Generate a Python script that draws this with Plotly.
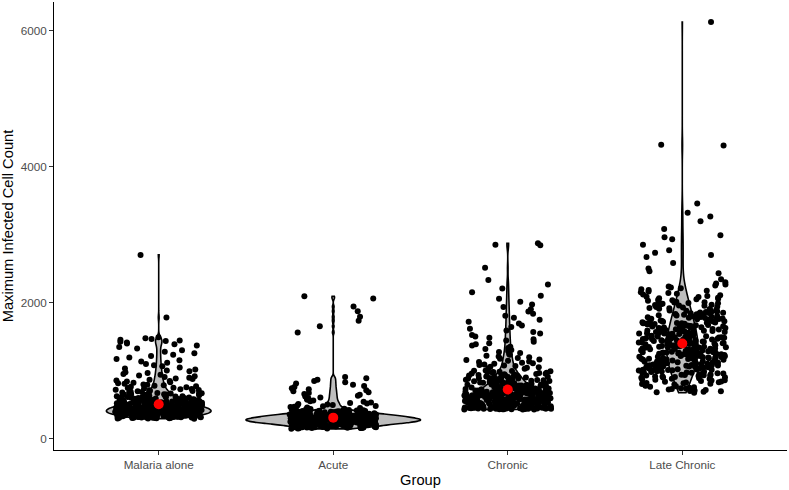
import numpy as np
import plotly.graph_objects as go

groups = ["Malaria alone", "Acute", "Chronic", "Late Chronic"]

malaria_alone = [
    291, 293, 294, 296, 297, 299, 300, 301, 303, 304, 305, 307, 308, 309, 311,
    312, 313, 314, 316, 317, 318, 319, 320, 322, 323, 324, 325, 326, 327, 328,
    329, 330, 331, 332, 333, 333, 334, 335, 336, 337, 337, 338, 339, 339, 340,
    341, 342, 342, 343, 344, 345, 345, 346, 347, 347, 348, 349, 350, 350, 351,
    352, 353, 353, 354, 355, 356, 356, 357, 358, 359, 359, 360, 361, 362, 362,
    363, 364, 365, 366, 366, 367, 368, 369, 370, 370, 371, 372, 373, 374, 375,
    375, 376, 377, 378, 379, 380, 381, 382, 383, 384, 385, 386, 387, 388, 389,
    390, 391, 391, 392, 393, 393, 394, 395, 395, 396, 397, 397, 398, 399, 399,
    400, 401, 401, 402, 403, 403, 404, 405, 405, 406, 407, 407, 408, 409, 409,
    410, 411, 411, 412, 413, 413, 414, 415, 416, 416, 417, 418, 418, 419, 420,
    421, 421, 422, 423, 424, 424, 425, 426, 427, 427, 428, 429, 430, 431, 431,
    432, 433, 434, 434, 435, 436, 437, 437, 438, 439, 440, 440,
    441, 442, 443, 443, 444, 445, 446, 447, 447, 448, 449, 450, 451, 452, 452,
    453, 454, 455, 456, 457, 457, 458, 459, 460, 461, 462, 463, 463, 464, 465,
    466, 467, 468, 469, 470, 470, 471, 472, 473, 474, 475, 476, 477, 478, 479,
    480, 481, 482, 483, 484, 485, 486, 487, 488, 489, 490, 491, 492, 493, 494,
    495, 496, 498,
    499, 500, 502, 503, 504, 506, 507, 508, 510, 511, 512, 514, 515, 517, 518,
    519, 521, 522, 524, 525, 527, 528, 530, 531, 533, 534, 536, 537, 539, 540,
    542, 543, 545, 547, 548, 550, 551, 553, 555, 556, 558, 560,
    562, 563, 565, 567, 569, 571, 573, 575, 577, 579, 581, 583, 585, 587, 589,
    591, 593, 596, 598, 600, 602, 605, 607, 609, 612, 614, 617, 619, 622, 624,
    627, 630, 633, 636, 639, 642, 645, 648, 651, 655, 658, 662, 665, 669, 673,
    677, 681, 685, 689, 694,
    698, 703, 708, 713, 718, 724, 729, 735, 741, 747, 753, 760, 767, 774, 781,
    788, 795, 803, 811, 819, 828, 836, 845, 854, 863, 873, 883, 893, 903,
    914, 925, 937, 949, 961, 974, 987, 1001, 1015, 1030, 1045,
    1061, 1078, 1095, 1113, 1131, 1150, 1170, 1190, 1211, 1232, 1254, 1276, 1299,
    1322, 1345, 1366, 1384, 1398, 1410, 1421, 1432, 1441, 1450, 1462, 1475, 1490,
    1780, 2700,
]

acute = [
    141, 145, 148, 150, 152, 154, 155, 157, 158, 159, 160, 161, 162, 163, 163, 164, 165, 165,
    166, 167, 168, 169, 170, 171, 172, 173, 174, 175, 177, 178, 179, 180, 182, 183, 184, 186, 187, 189,
    190, 191, 192, 193, 193, 194, 195, 196, 197, 198, 199, 199, 200, 201, 202,
    203, 204, 205, 205, 206, 207, 208, 209, 210, 211, 211, 212, 213, 214,
    215, 215, 216, 217, 217, 218, 219, 219, 220, 221, 221, 222, 223, 223, 224,
    225, 225, 226, 227, 227, 228, 229, 229, 230, 231, 231, 232, 233, 233, 234,
    235, 235, 236, 237, 237, 238, 239, 239,
    240, 240, 241, 241, 242, 242, 243, 243, 244, 244, 245, 245, 246, 246, 247,
    247, 248, 248, 249, 249, 250, 250, 251, 251, 252, 252, 253, 254, 254, 255,
    255, 256, 256, 257, 257, 258, 258, 259, 259, 260, 261, 261, 262, 263, 263, 264,
    265, 265, 266, 266, 267, 267, 268, 268, 268, 269, 269, 270, 270, 271, 271,
    272, 272, 273, 273, 274, 274, 275, 275, 276, 276, 277, 277, 278, 278, 279,
    279, 280, 280, 281, 281, 282, 282, 283, 283, 284, 284, 285, 285, 286, 287,
    287, 288, 289,
    290, 290, 291, 291, 292, 292, 293, 293, 294, 294, 295, 295, 296, 296, 297,
    297, 298, 298, 299, 299, 300, 300, 301, 301, 302, 302, 303, 303, 304, 304,
    305, 305, 306, 306, 307, 307, 308, 309, 309, 310, 311, 311, 312, 313, 314,
    315, 315, 316, 317, 317, 318, 319, 319, 320, 321, 321, 322, 323, 323, 324,
    325, 326, 326, 327, 328, 328, 329, 330, 331, 331, 332, 333, 333, 334, 335,
    335, 336, 337, 337, 338, 338, 339, 339, 340,
    341, 342, 342, 343, 344, 345, 345, 346, 347, 348, 349, 349, 350, 351, 352,
    353, 353, 354, 355, 356, 357, 358, 358, 359, 360, 361, 362, 363, 364,
    365, 366, 367, 368, 369, 370, 371, 372, 374, 375, 376, 377, 379, 380, 381,
    383, 384, 386, 387, 389,
    390, 392, 394, 396, 398, 400, 402, 404, 406, 409, 411, 414,
    416, 419, 422, 425, 428, 432, 435, 439,
    443, 449, 455, 461, 467, 473, 479, 486, 493, 500, 507, 514, 522, 530, 539, 548,
    558, 569, 580, 592, 604, 616, 628, 641, 654, 667, 681, 695, 709,
    724, 740, 756, 773, 790, 808, 826, 845, 864, 884, 905,
    1560, 1650, 1730, 1790, 1870, 1940, 2060, 2090,
]

chronic = [
    426, 427, 427, 429, 430, 431, 431, 433, 434, 435, 436, 436, 438, 439, 440,
    441, 442, 442, 444, 445, 446, 447, 448, 448, 450, 451, 452, 453, 453, 455,
    456, 457, 458, 459, 459, 461, 462, 463, 464, 464, 466, 467, 468, 469, 469,
    471, 472, 473, 474, 475,
    476, 477, 478, 479, 480, 481, 482, 483, 484, 485, 487, 488, 489, 490, 491,
    492, 493, 494, 495, 496, 498, 499, 500, 501, 502, 503, 504, 505, 506, 507,
    509, 510, 511, 512, 513, 514, 515, 516, 517, 518, 520, 521, 522, 523, 524,
    525, 526, 527, 528, 529,
    530, 531, 532, 534, 535, 536, 537, 538, 540, 541, 542, 543, 544, 546, 547,
    548, 549, 550, 552, 553, 554, 555, 556, 558, 559, 560, 561, 562, 564, 565,
    566, 567, 568, 570, 571, 572, 573, 574, 576, 577, 578, 579, 580, 582, 583,
    584, 585, 586,
    588, 589, 590, 592, 593, 594, 596, 597, 598, 600, 601, 602, 604, 605, 606,
    608, 609, 610, 612, 613, 614, 616, 617, 618, 620, 621, 622, 624, 625, 626,
    628, 629, 630, 632, 633, 634, 636, 637, 638, 640, 641, 642,
    644, 645, 647, 648, 650, 651, 653, 654, 656, 657, 659, 660, 662, 663, 665,
    666, 668, 669, 671, 672, 674, 675, 677, 678, 680, 681, 683, 684, 686, 687,
    689, 690, 692, 694, 695, 697, 698, 700, 702, 703, 705, 706, 708, 710, 711,
    713, 715, 717, 719, 721, 723, 725, 727, 729, 731, 733, 735, 737, 739, 741,
    743, 745, 747, 749, 751, 753, 756, 758, 760, 762, 764, 766, 768, 770, 773,
    775, 777, 779, 781, 784, 786, 788, 790, 793, 795, 797, 800,
    803, 806, 809, 812, 815, 818, 821, 824, 827, 830, 833, 836, 839, 842, 845,
    849, 852, 855, 858, 861, 865, 868, 871, 874, 878, 881, 884, 888, 891, 895,
    898, 902, 906, 909, 913, 917, 921, 925, 929, 932, 936, 940, 944, 948, 952,
    957, 961, 965, 969, 973, 978, 982, 987, 991, 996, 1000,
    1027, 1034, 1041, 1048, 1056, 1064, 1072, 1080, 1088, 1097, 1106, 1115, 1124,
    1133, 1143, 1153, 1163, 1173, 1184, 1195, 1206, 1218, 1230, 1243, 1256, 1270,
    1285, 1300, 1316, 1332, 1349, 1366, 1384, 1402, 1421, 1440, 1460, 1480, 1501,
    1522, 1544, 1566, 1589,
    1613, 1638, 1663, 1690, 1717, 1745, 1774, 1804, 1835, 1867, 1900, 1934,
    1970, 2010, 2055, 2100, 2150, 2205, 2265, 2330, 2510,
    2840, 2850, 2870,
]

late_chronic = [
    672, 679, 686, 693, 699, 706, 712, 719, 726, 733, 740, 747, 754, 761, 768, 776, 784, 792,
    801, 806, 812, 817, 823, 828, 834, 839, 845, 851, 856, 862, 868, 873, 879, 885, 891, 897,
    901, 905, 910, 913, 917, 922, 925, 930, 934, 937, 942, 946, 949, 954, 958, 961,
    966, 970, 973, 978, 982, 985, 990, 994, 998,
    1002, 1005, 1009, 1012, 1015, 1019, 1022, 1025, 1029, 1032, 1035, 1038, 1042, 1045, 1048,
    1052, 1055, 1058, 1062, 1065, 1068, 1072, 1075, 1078, 1082, 1085, 1088, 1092, 1095, 1098,
    1101, 1104, 1107, 1110, 1113, 1116, 1119, 1122, 1125, 1128, 1131, 1135, 1138, 1141, 1144,
    1147, 1150, 1153, 1156, 1159, 1162, 1165, 1168, 1171, 1174, 1177, 1180, 1184, 1187, 1190, 1193, 1197,
    1200, 1203, 1206, 1208, 1211, 1214, 1217, 1220, 1223, 1226, 1229, 1231, 1234, 1237, 1240,
    1243, 1246, 1249, 1251, 1254, 1257, 1260, 1263, 1266, 1269, 1271, 1274, 1277, 1280, 1283,
    1286, 1289, 1291, 1294, 1297,
    1300, 1303, 1305, 1308, 1311, 1314, 1316, 1319, 1322, 1325, 1328, 1330, 1333, 1336, 1339,
    1342, 1344, 1347, 1350, 1353, 1356, 1358, 1361, 1364, 1367, 1370, 1372, 1375, 1378, 1381,
    1384, 1386, 1389, 1392, 1395, 1398,
    1401, 1404, 1407, 1409, 1412, 1415, 1418, 1421, 1424, 1427, 1429, 1432, 1435, 1438, 1441,
    1444, 1447, 1449, 1452, 1455, 1458, 1461, 1464, 1467, 1469, 1472, 1475, 1478, 1481, 1484,
    1487, 1489, 1492, 1495, 1498,
    1502, 1505, 1508, 1511, 1514, 1517, 1520, 1523, 1527, 1530, 1533, 1536, 1539, 1542, 1545,
    1548, 1552, 1555, 1558, 1561, 1564, 1567, 1570, 1573, 1577, 1580, 1583, 1586, 1589, 1592, 1595, 1598,
    1602, 1605, 1609, 1612, 1616, 1619, 1623, 1626, 1630, 1633, 1637, 1640, 1644, 1647, 1651,
    1654, 1658, 1661, 1665, 1668, 1672, 1675, 1679, 1682, 1686, 1689, 1693, 1696, 1699,
    1703, 1707, 1711, 1715, 1719, 1723, 1727, 1731, 1735, 1740, 1744, 1748, 1752, 1756, 1760,
    1764, 1768, 1772, 1776, 1781, 1785, 1789, 1793, 1797,
    1802, 1807, 1812, 1816, 1821, 1826, 1830, 1835, 1840, 1845, 1849, 1854, 1859, 1863, 1868,
    1873, 1878, 1882, 1887, 1892, 1897,
    1903, 1908, 1915, 1920, 1927, 1932, 1939, 1944, 1951, 1956, 1963, 1968, 1975, 1980, 1987, 1992, 1998,
    2004, 2011, 2019, 2026, 2034, 2041, 2049, 2056, 2064, 2071, 2079, 2086, 2094,
    2106, 2118, 2128, 2140, 2150, 2162, 2172, 2184, 2194,
    2208, 2222, 2236, 2251, 2266, 2281, 2297,
    2340, 2430, 2460, 2500, 2580, 2670, 2700, 2730, 2770, 2850, 2930, 2960, 2990,
    3080, 3195, 3265, 3320, 3455,
    4310, 4320, 6125,
]

group_means = [504, 306, 720, 1397]

y_ticks = [0, 2000, 4000, 6000]

series = [malaria_alone, acute, chronic, late_chronic]

# ---- style ----
violin_widths = [0.6, 1.0, 0.46, 0.18]
jitter_half = 0.25          # geom_jitter(width = 0.25)
FONT = "Liberation Sans, Arial, sans-serif"


def nrd0(v):
    a = np.asarray(v, dtype=float)
    sd = a.std(ddof=1)
    iqr = np.subtract(*np.percentile(a, [75, 25]))
    lo = min(sd, iqr / 1.34) if iqr > 0 else sd
    return 0.9 * lo * len(a) ** (-0.2)


def jitter_offsets(n, phase):
    # deterministic hash-based horizontal jitter in [-jitter_half, jitter_half]
    k = np.arange(1, n + 1, dtype=float)
    u = np.abs(np.sin(k * 12.9898 + phase * 78.233)) * 43758.5453 % 1.0
    return (u - 0.5) * 2 * jitter_half


positions = list(range(len(groups)))

fig = go.Figure()

for pos, vals, w in zip(positions, series, violin_widths):
    fig.add_trace(go.Violin(
        x=[pos] * len(vals), y=vals,
        width=w, scalemode="width", spanmode="hard",
        bandwidth=nrd0(vals),
        fillcolor="#bebebe", line=dict(color="black", width=1.6),
        points=False, showlegend=False, hoverinfo="skip",
    ))

for pos, vals in zip(positions, series):
    fig.add_trace(go.Scatter(
        x=pos + jitter_offsets(len(vals), 1.7 + pos), y=vals,
        mode="markers",
        marker=dict(color="black", size=6, line=dict(width=0)),
        showlegend=False,
    ))

fig.add_trace(go.Scatter(
    x=positions, y=group_means, mode="markers",
    marker=dict(color="red", size=10, line=dict(width=0)),
    showlegend=False,
))

axis_common = dict(
    showline=True, linecolor="black", linewidth=1,
    ticks="outside", ticklen=4, tickwidth=1, tickcolor="#333333",
    tickfont=dict(family=FONT, size=11.7, color="#4d4d4d"),
    showgrid=False, zeroline=False,
)

fig.update_layout(
    width=789, height=490,
    margin=dict(l=54, r=2, t=2, b=40),
    paper_bgcolor="white", plot_bgcolor="white",
    violinmode="overlay",
    xaxis=dict(
        range=[-0.6, 3.6], tickvals=positions, ticktext=groups,
        title=dict(text="Group", font=dict(family=FONT, size=14.7, color="black"), standoff=4),
        **axis_common,
    ),
    yaxis=dict(
        range=[-170, 6420], tickvals=y_ticks,
        title=dict(text="Maximum Infected Cell Count", font=dict(family=FONT, size=14.7, color="black"), standoff=6),
        **axis_common,
    ),
)

fig.write_html("out.html")
